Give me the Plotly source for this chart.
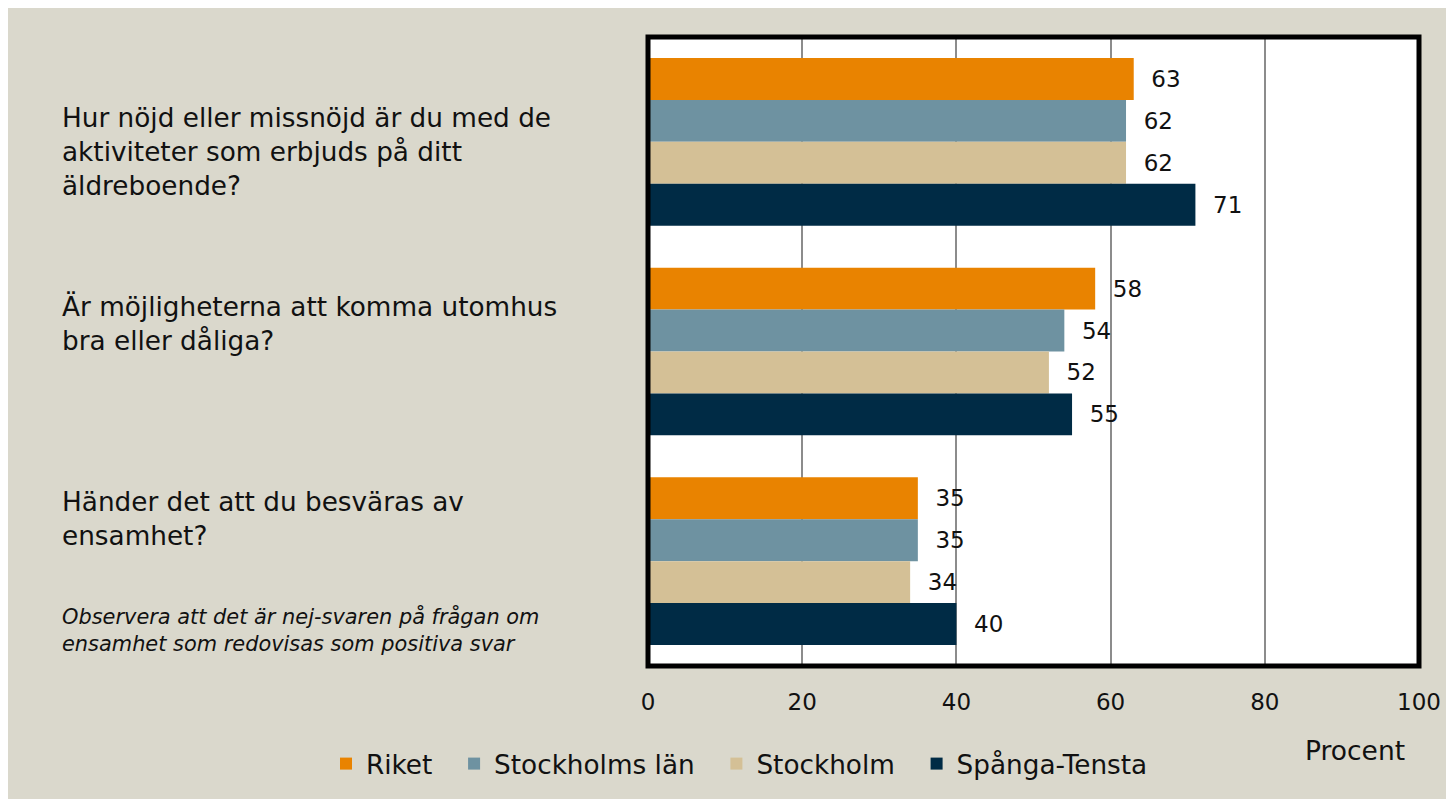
import plotly.graph_objects as go

questions = ["Q1", "Q2", "Q3"]
question_texts = [
    "Hur nöjd eller missnöjd är du med de<br>aktiviteter som erbjuds på ditt<br>äldreboende?",
    "Är möjligheterna att komma utomhus<br>bra eller dåliga?",
    "Händer det att du besväras av<br>ensamhet?",
]
note_text = "<i>Observera att det är nej-svaren på frågan om<br>ensamhet som redovisas som positiva svar</i>"

series_names = ["Riket", "Stockholms län", "Stockholm", "Spånga-Tensta"]
riket = [63, 58, 35]
stockholms_lan = [62, 54, 35]
stockholm = [62, 52, 34]
spanga_tensta = [71, 55, 40]
series_values = [riket, stockholms_lan, stockholm, spanga_tensta]
colors = ["#E98300", "#6E92A1", "#D4C096", "#002B45"]

tick_vals = [0, 20, 40, 60, 80, 100]
tick_text = ["0", "20", "40", "60", "80", "100"]

FONT = "DejaVu Sans"
BG = "#DAD8CC"
TXT = "#111111"
PAD = "\u00a0\u00a0"

fig = go.Figure()
for name, vals, col in zip(series_names, series_values, colors):
    fig.add_trace(go.Bar(
        y=questions, x=vals, name=name + PAD, orientation="h",
        marker=dict(color=col, line=dict(width=0)),
        text=vals, texttemplate="\u00a0\u00a0%{x}", textposition="outside",
        textfont=dict(family=FONT, size=23, color=TXT),
        cliponaxis=False, constraintext="none",
    ))

W, H = 1446, 791
L, R, T, B = 640, 35, 29, 132

annotations = []
ys = [0.8175, 0.5444, 0.2333]
for txt, yv in zip(question_texts, ys):
    annotations.append(dict(text=txt, x=-0.7626, y=yv, xref="paper", yref="paper",
                            xanchor="left", yanchor="middle", align="left", showarrow=False,
                            font=dict(family=FONT, size=26.3, color=TXT)))
annotations.append(dict(text=note_text, x=-0.7626, y=0.0571, xref="paper", yref="paper",
                        xanchor="left", yanchor="middle", align="left", showarrow=False,
                        font=dict(family=FONT, size=20.9, color=TXT)))
annotations.append(dict(text="Procent", x=(1347 - L) / 771, y=(659 - 744) / 630,
                        xref="paper", yref="paper", xanchor="center", yanchor="middle",
                        showarrow=False, font=dict(family=FONT, size=26.5, color=TXT)))

fig.update_layout(
    width=W, height=H, autosize=False,
    margin=dict(l=L, r=R, t=T, b=B, pad=0),
    paper_bgcolor=BG, plot_bgcolor="white",
    barmode="group", bargap=0.2, bargroupgap=0,
    font=dict(family=FONT, size=24, color=TXT),
    showlegend=True,
    legend=dict(orientation="h", x=(318 - L) / 771, y=(659 - 756) / 630,
                xanchor="left", yanchor="middle", traceorder="normal",
                font=dict(family=FONT, size=26.3, color=TXT),
                bgcolor="rgba(0,0,0,0)", itemsizing="constant"),
    annotations=annotations,
    shapes=[dict(type="rect", xref="x domain", yref="y domain", x0=0, x1=1, y0=0, y1=1,
                 line=dict(color="black", width=5), layer="above")],
)
fig.update_xaxes(range=[0, 100], tickvals=tick_vals, ticktext=tick_text,
                 showgrid=True, gridcolor="#8C8C8C", gridwidth=1.5, zeroline=False,
                 showline=False, ticks="", ticklabelstandoff=20,
                 tickfont=dict(family=FONT, size=23, color=TXT), fixedrange=True)
fig.update_yaxes(autorange="reversed", showticklabels=False, showgrid=False,
                 zeroline=False, showline=False, ticks="", fixedrange=True)

fig.write_html("out.html")
